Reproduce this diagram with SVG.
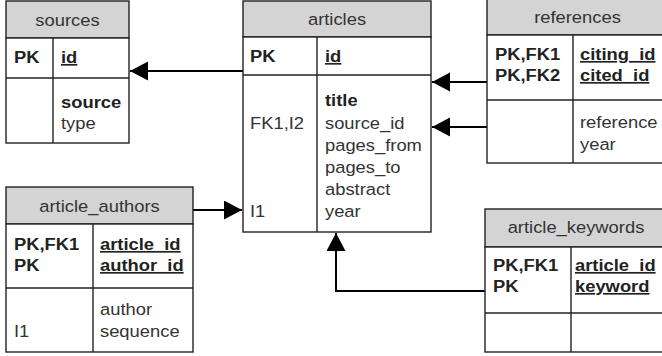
<svg xmlns="http://www.w3.org/2000/svg" width="662" height="356" viewBox="0 0 662 356">
<style>
.box{fill:#fff;stroke:#222;stroke-width:1.4}
.hdr{fill:#d4d4d4;stroke:#222;stroke-width:1.4}
.ln{stroke:#222;stroke-width:1.4;fill:none}
text{font-family:"Liberation Sans",Arial,sans-serif;font-size:17px;fill:#333;transform-box:fill-box;transform-origin:0 50%;transform:scaleX(1.08)}
.h{text-anchor:middle;transform-origin:50% 50%}
.b{font-weight:bold;fill:#222}
.u{text-decoration:underline}
.con{stroke:#000;stroke-width:2;fill:none}
</style>
<defs>
<marker id="arr" markerUnits="userSpaceOnUse" markerWidth="19" markerHeight="20" refX="18" refY="9.5" orient="auto">
<path d="M0,0 L18,9.5 L0,19 z" fill="#000"/>
</marker>
</defs>
<rect width="662" height="356" fill="#fff"/>
<g id="connectors">
<line class="con" x1="243" y1="71" x2="130" y2="71" marker-end="url(#arr)"/>
<line class="con" x1="487" y1="82" x2="432" y2="82" marker-end="url(#arr)"/>
<line class="con" x1="487" y1="127" x2="432" y2="127" marker-end="url(#arr)"/>
<line class="con" x1="193" y1="210" x2="242" y2="210" marker-end="url(#arr)"/>
<polyline class="con" points="485,291 336,291 336,233" marker-end="url(#arr)"/>
</g>
<g id="sources">
<rect class="hdr" x="6" y="1" width="123" height="37"/>
<rect class="box" x="6" y="38" width="123" height="105"/>
<line class="ln" x1="6" y1="78" x2="129" y2="78"/>
<line class="ln" x1="53" y1="38" x2="53" y2="143"/>
<text class="h" x="67.5" y="26">sources</text>
<text class="b" x="14" y="63">PK</text>
<text class="b u" x="61" y="63">id</text>
<text class="b" x="61" y="108">source</text>
<text x="61" y="129">type</text>
</g>
<g id="articles">
<rect class="hdr" x="243" y="1" width="188" height="36"/>
<rect class="box" x="243" y="37" width="188" height="195"/>
<line class="ln" x1="243" y1="75" x2="431" y2="75"/>
<line class="ln" x1="317" y1="37" x2="317" y2="232"/>
<text class="h" x="337" y="25">articles</text>
<text class="b" x="250" y="62">PK</text>
<text class="b u" x="325" y="62">id</text>
<text x="250" y="129">FK1,I2</text>
<text x="250" y="217">I1</text>
<text class="b" x="325" y="106">title</text>
<text x="325" y="129">source_id</text>
<text x="325" y="151">pages_from</text>
<text x="325" y="173">pages_to</text>
<text x="325" y="195">abstract</text>
<text x="325" y="217">year</text>
</g>
<g id="references">
<rect class="hdr" x="487" y="-2" width="185" height="37"/>
<rect class="box" x="487" y="35" width="185" height="128"/>
<line class="ln" x1="487" y1="100" x2="672" y2="100"/>
<line class="ln" x1="573" y1="35" x2="573" y2="163"/>
<text class="h" x="577.5" y="23">references</text>
<text class="b" x="495" y="60">PK,FK1</text>
<text class="b" x="495" y="81">PK,FK2</text>
<text class="b u" x="580" y="60">citing_id</text>
<text class="b u" x="580" y="81">cited_id</text>
<text x="580" y="128">reference</text>
<text x="580" y="150">year</text>
</g>
<g id="article_authors">
<rect class="hdr" x="6" y="187" width="187" height="37"/>
<rect class="box" x="6" y="224" width="187" height="128"/>
<line class="ln" x1="6" y1="288" x2="193" y2="288"/>
<line class="ln" x1="93" y1="224" x2="93" y2="352"/>
<text class="h" x="99.5" y="212">article_authors</text>
<text class="b" x="14" y="250">PK,FK1</text>
<text class="b" x="14" y="271">PK</text>
<text class="b u" x="100" y="250">article_id</text>
<text class="b u" x="100" y="271">author_id</text>
<text x="100" y="315">author</text>
<text x="100" y="337">sequence</text>
<text x="14" y="337">I1</text>
</g>
<g id="article_keywords">
<rect class="hdr" x="485" y="209" width="185" height="38"/>
<rect class="box" x="485" y="247" width="185" height="105"/>
<line class="ln" x1="485" y1="313" x2="670" y2="313"/>
<line class="ln" x1="571" y1="247" x2="571" y2="352"/>
<text class="h" x="576" y="233">article_keywords</text>
<text class="b" x="493" y="271">PK,FK1</text>
<text class="b" x="493" y="292">PK</text>
<text class="b u" x="575" y="271">article_id</text>
<text class="b u" x="575" y="292">keyword</text>
</g>
</svg>
